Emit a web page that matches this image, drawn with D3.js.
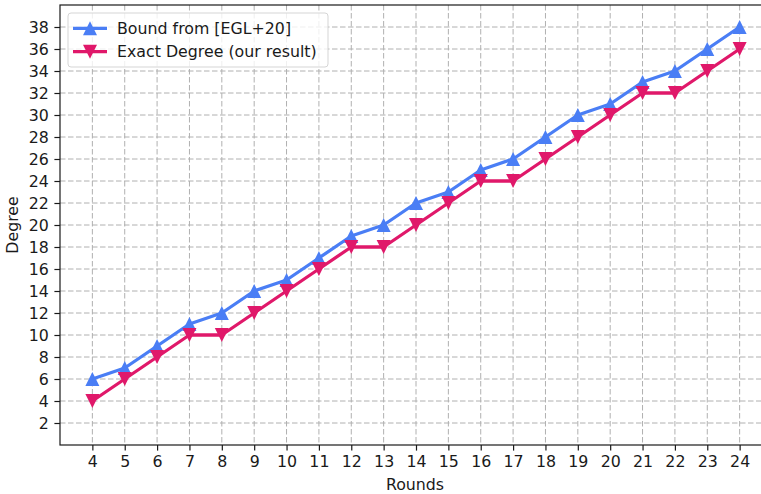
<!DOCTYPE html>
<html><head><meta charset="utf-8">
<script src="https://cdn.jsdelivr.net/npm/d3@7"></script>
<style>body{margin:0;background:#fff;overflow:hidden}svg{display:block;font-family:"DejaVu Sans",sans-serif}</style>
</head><body><svg id="c" width="761" height="494"></svg>
<script>
const rounds = [4,5,6,7,8,9,10,11,12,13,14,15,16,17,18,19,20,21,22,23,24];
const boundEGL = [6,7,9,11,12,14,15,17,19,20,22,23,25,26,28,30,31,33,34,36,38];
const exactDegree = [4,6,8,10,10,12,14,16,18,18,20,22,24,24,26,28,30,32,32,34,36];
const yTicks = [2,4,6,8,10,12,14,16,18,20,22,24,26,28,30,32,34,36,38];
const seriesNames = ["Bound from [EGL+20]","Exact Degree (our result)"];
const colors = ["#4a7ef5","#e0186a"];

const svg = d3.select("#c");
const L=60, R=772, T=5, B=445;
const FS="15.8px";
const x = d3.scaleLinear().domain([3,25]).range([L,R]);
const y = d3.scaleLinear().domain([0,40]).range([B,T]);

// grid
const g = svg.append("g");
g.selectAll(".vx").data(rounds).enter().append("line")
 .attr("x1",d=>x(d)).attr("x2",d=>x(d)).attr("y1",T).attr("y2",B)
 .attr("stroke","#b0b0b0").attr("stroke-width",1).attr("stroke-dasharray","5.5,2.5");
g.selectAll(".hy").data(yTicks).enter().append("line")
 .attr("y1",d=>y(d)).attr("y2",d=>y(d)).attr("x1",L).attr("x2",R)
 .attr("stroke","#b0b0b0").attr("stroke-width",1).attr("stroke-dasharray","5.5,2.5");

// axes
const xa = svg.append("g").attr("transform",`translate(0,${B})`)
 .call(d3.axisBottom(x).tickValues(rounds).tickSize(5.6).tickPadding(5.6).tickFormat(d3.format("d")));
const ya = svg.append("g").attr("transform",`translate(${L},0)`)
 .call(d3.axisLeft(y).tickValues(yTicks).tickSize(5.6).tickPadding(5.6).tickFormat(d3.format("d")));
[xa,ya].forEach(a=>{a.select(".domain").remove();
 a.selectAll("text").attr("font-size",FS).attr("fill","#1a1a1a").attr("font-family","DejaVu Sans");
 a.selectAll("line").attr("stroke","#1a1a1a").attr("stroke-width",1.2);});
// spines
svg.append("rect").attr("x",L).attr("y",T).attr("width",R-L).attr("height",B-T)
 .attr("fill","none").attr("stroke","#1a1a1a").attr("stroke-width",1.2);

// labels
svg.append("text").attr("x",415).attr("y",490).attr("text-anchor","middle")
 .attr("font-size",FS).attr("fill","#1a1a1a").text("Rounds");
svg.append("text").attr("transform",`translate(18.3,${(T+B)/2}) rotate(-90)`).attr("text-anchor","middle")
 .attr("font-size",FS).attr("fill","#1a1a1a").text("Degree");

function tri(down){ const s=7; return down?`M${-s},${-s}L${s},${-s}L0,${s}Z`:`M${-s},${s}L${s},${s}L0,${-s}Z`; }

const series=[boundEGL, exactDegree];
series.forEach((vals,i)=>{
 const line=d3.line().x((d,j)=>x(rounds[j])).y(d=>y(d));
 svg.append("path").datum(vals).attr("d",line).attr("fill","none")
  .attr("stroke",colors[i]).attr("stroke-width",3.3).attr("stroke-linejoin","round");
 svg.selectAll(".m"+i).data(vals).enter().append("path")
  .attr("transform",(d,j)=>`translate(${x(rounds[j])},${y(d)})`)
  .attr("d",tri(i===1)).attr("fill",colors[i]);
});

// legend
const lg=svg.append("g");
lg.append("rect").attr("x",68).attr("y",13).attr("width",260).attr("height",54).attr("rx",3)
 .attr("fill","#fff").attr("fill-opacity",0.8).attr("stroke","#d5d5d5").attr("stroke-width",1);
seriesNames.forEach((n,i)=>{
 const yy=28.3+i*23.4;
 lg.append("line").attr("x1",73).attr("x2",107).attr("y1",yy).attr("y2",yy).attr("stroke",colors[i]).attr("stroke-width",3.3);
 lg.append("path").attr("transform",`translate(90,${yy})`).attr("d",tri(i===1)).attr("fill",colors[i]);
 lg.append("text").attr("x",117).attr("y",yy+5.6).attr("font-size",FS).attr("fill","#1a1a1a").text(n);
});
</script></body></html>
